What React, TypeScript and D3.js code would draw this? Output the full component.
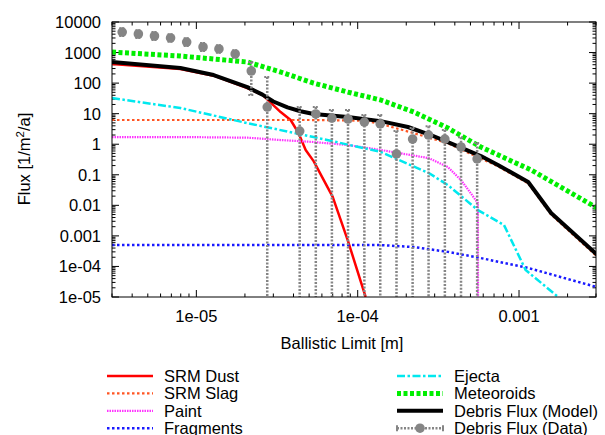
import React from 'react';
import * as d3 from 'd3';

// model curves (x in m, flux in 1/m^2/a)
const dustX = [3e-6, 7.96e-6, 1.28e-5, 2.07e-5, 2.57e-5, 3.33e-5, 3.84e-5, 4.3e-5, 4.76e-5, 5.33e-5, 7.0e-5, 8.67e-5, 1.12e-4];
const dustY = [420, 290, 175, 69, 41, 11.3, 6.2, 2.3, 0.65, 0.28, 0.019, 7.3e-4, 1e-5];

const slagX = [3e-6, 1e-5, 5e-5, 1.1e-4, 1.39e-4, 2.23e-4, 3.62e-4, 5.8e-4, 7.4e-4, 1.14e-3, 1.58e-3, 3.05e-3];
const slagY = [6.2, 6.2, 6.2, 5.9, 4.6, 2.3, 1.07, 0.34, 0.19, 0.052, 0.005, 2.1e-4];

const paintX = [3e-6, 7.96e-6, 2.07e-5, 3.33e-5, 5.33e-5, 8.67e-5, 1.39e-4, 2.76e-4, 3.62e-4, 4.37e-4, 5.56e-4, 5.57e-4];
const paintY = [1.72, 1.72, 1.64, 1.37, 1.18, 0.94, 0.65, 0.35, 0.18, 0.067, 0.0119, 1e-5];

const fragX = [3e-6, 1.39e-4, 2.23e-4, 3.62e-4, 5.8e-4, 1.14e-3, 3.05e-3];
const fragY = [5.0e-4, 5.0e-4, 4.3e-4, 3.0e-4, 1.88e-4, 8.9e-5, 2.1e-5];

const ejectaX = [3e-6, 7.96e-6, 2.07e-5, 5.33e-5, 1.39e-4, 2.76e-4, 3.62e-4, 5.56e-4, 8.07e-4, 1.1e-3, 1.75e-3];
const ejectaY = [32.5, 15.3, 4.9, 1.72, 0.56, 0.114, 0.046, 0.007, 0.00226, 7.6e-5, 1e-5];

const meteorX = [3e-6, 7.96e-6, 2.07e-5, 3.33e-5, 5.33e-5, 8.67e-5, 1.39e-4, 2.23e-4, 3.62e-4, 5.8e-4, 1.19e-3, 3.05e-3];
const meteorY = [1040, 770, 490, 231, 100, 51, 28, 11.3, 3.4, 0.81, 0.143, 0.0082];

const modelX = [3e-6, 7.96e-6, 1.28e-5, 2.07e-5, 2.57e-5, 3.0e-5, 3.67e-5, 4.42e-5, 5.33e-5, 8.67e-5, 1.39e-4, 2.05e-4, 2.84e-4, 3.62e-4, 4.55e-4, 5.8e-4, 7.4e-4, 1.14e-3, 1.58e-3, 3.05e-3];
const modelY = [490, 312, 184, 74, 42, 25, 16, 12, 9.7, 7.8, 5.7, 3.66, 2.0, 1.18, 0.7, 0.41, 0.21, 0.058, 0.0056, 2.4e-4];

// measured debris flux with error bars (0 = open to the bottom)
const dataX = [3.47e-6, 4.37e-6, 5.5e-6, 6.92e-6, 8.71e-6, 1.1e-5, 1.38e-5, 1.74e-5, 2.19e-5, 2.75e-5, 4.37e-5, 5.5e-5, 6.92e-5, 8.71e-5, 1.1e-4, 1.38e-4, 1.74e-4, 2.19e-4, 2.75e-4, 3.47e-4, 4.37e-4, 5.5e-4];
const dataY = [4700, 4050, 3480, 3000, 2210, 1520, 1310, 900, 249, 16.5, 2.7, 9.8, 7.2, 6.7, 5.3, 4.6, 0.48, 1.48, 2.0, 1.48, 0.81, 0.33];
const dataHi = [6300, 5400, 4700, 4000, 2950, 2050, 1750, 1200, 490, 158, 16.5, 16.5, 13.2, 13.2, 9, 9, 2.7, 3.4, 3.9, 2.9, 1.7, 1.1];
const dataLo = [3500, 3000, 2600, 2250, 1650, 1130, 980, 670, 41, 0, 0, 0, 0, 0, 0, 0, 0, 0, 0, 0, 0, 0];

const yTickLabels = ['1e-05', '1e-04', '0.001', '0.01', '0.1', '1', '10', '100', '1000', '10000'];
const xTickLabels = ['1e-05', '1e-04', '0.001'];

const W = 605, H = 435;
const m = { left: 112, right: 596, top: 22, bottom: 297 };
const font = '"Liberation Sans", Arial, sans-serif';
const gray = '#858585';

const x = d3.scaleLog().domain([3e-6, 3e-3]).range([m.left, m.right]);
const y = d3.scaleLog().domain([1e-5, 1e4]).range([m.bottom, m.top]);

const series = [
  { name: 'SRM Dust', xs: dustX, ys: dustY, color: '#ff0000', width: 2.5, dash: null },
  { name: 'SRM Slag', xs: slagX, ys: slagY, color: '#ff5522', width: 2.2, dash: '2.5,2.5' },
  { name: 'Paint', xs: paintX, ys: paintY, color: '#ff33ff', width: 2.2, dash: '1.5,1' },
  { name: 'Fragments', xs: fragX, ys: fragY, color: '#1a1aff', width: 2.5, dash: '2.5,2.5' },
  { name: 'Ejecta', xs: ejectaX, ys: ejectaY, color: '#00e8ee', width: 2.5, dash: '8,2.5,2.5,2.5' },
  { name: 'Meteoroids', xs: meteorX, ys: meteorY, color: '#00ee00', width: 5, dash: '4,2.5' },
  { name: 'Debris Flux (Model)', xs: modelX, ys: modelY, color: '#000000', width: 4, dash: null },
];

const line = d3.line<[number, number]>()
  .x((d) => x(d[0]))
  .y((d) => y(d[1]));

const isMajor = (v: number) => Math.abs(Math.log10(v) - Math.round(Math.log10(v))) < 1e-6;

const App = () => {
  const xTicks = x.ticks();
  const yTicks = y.ticks();

  const legendRows = [...series.map((s) => s.name), 'Debris Flux (Data)'];

  return (
    <svg width={W} height={H} style={{ position: 'absolute', left: 0, top: 0, background: '#fff' }} fontFamily={font}>
      <defs>
        <clipPath id="plot">
          <rect x={m.left} y={m.top} width={m.right - m.left} height={m.bottom - m.top} />
        </clipPath>
      </defs>

      {/* ticks on all four sides */}
      <g stroke="#000" strokeWidth={1}>
        {xTicks.map((t, i) => {
          const px = x(t);
          const len = isMajor(t) ? 7 : 3.5;
          return (
            <g key={'xt' + i}>
              <line x1={px} x2={px} y1={m.bottom} y2={m.bottom - len} />
              <line x1={px} x2={px} y1={m.top} y2={m.top + len} />
            </g>
          );
        })}
        {yTicks.map((t, i) => {
          const py = y(t);
          const len = isMajor(t) ? 7 : 3.5;
          return (
            <g key={'yt' + i}>
              <line x1={m.left} x2={m.left + len} y1={py} y2={py} />
              <line x1={m.right} x2={m.right - len} y1={py} y2={py} />
            </g>
          );
        })}
      </g>

      {/* tick labels */}
      <g fontSize={16.5} fill="#000">
        {yTickLabels.map((l, i) => (
          <text key={l} x={101} y={y(Math.pow(10, i - 5)) + 6} textAnchor="end">{l}</text>
        ))}
        {xTickLabels.map((l, i) => (
          <text key={l} x={x(Math.pow(10, i - 5))} y={322} textAnchor="middle">{l}</text>
        ))}
        <text x={342} y={349} textAnchor="middle">Ballistic Limit [m]</text>
        <text transform="translate(30,159) rotate(-90)" textAnchor="middle">
          Flux [1/m<tspan dy={-6} fontSize={11.5}>2</tspan><tspan dy={6}>/a]</tspan>
        </text>
      </g>

      <g clipPath="url(#plot)" fill="none" strokeLinejoin="round">
        {series.map((s) => (
          <path
            key={s.name}
            d={line(s.xs.map((v, i) => [v, s.ys[i]] as [number, number])) || ''}
            stroke={s.color}
            strokeWidth={s.width}
            strokeDasharray={s.dash || undefined}
          />
        ))}
        {/* data: error bars + points */}
        {dataX.map((v, i) => {
          const px = x(v);
          const yTop = y(dataHi[i]);
          const yBot = dataLo[i] > 0 ? y(dataLo[i]) : m.bottom + 5;
          return (
            <g key={'d' + i}>
              <line x1={px} x2={px} y1={yTop} y2={yBot} stroke={gray} strokeWidth={2.5} strokeDasharray="2,1.5" />
              <line x1={px - 3} x2={px + 3} y1={yTop} y2={yTop} stroke={gray} strokeWidth={2} strokeDasharray="2,1" />
              {dataLo[i] > 0 && (
                <line x1={px - 3} x2={px + 3} y1={yBot} y2={yBot} stroke={gray} strokeWidth={2} strokeDasharray="2,1" />
              )}
              <circle cx={px} cy={y(dataY[i])} r={4.8} fill={gray} />
            </g>
          );
        })}
      </g>

      {/* frame */}
      <rect x={m.left} y={m.top} width={m.right - m.left} height={m.bottom - m.top} fill="none" stroke="#000" strokeWidth={1} />

      {/* legend */}
      <g fontSize={16.5}>
        {legendRows.map((name, i) => {
          const col = i < 4 ? 0 : 1;
          const row = i < 4 ? i : i - 4;
          const lx = col === 0 ? 107 : 397;
          const cy = 376 + row * 17.4;
          const s = series[i];
          return (
            <g key={name}>
              {s ? (
                <line x1={lx} x2={lx + 46} y1={cy} y2={cy} stroke={s.color} strokeWidth={s.width} strokeDasharray={s.dash || undefined} />
              ) : (
                <g stroke={gray}>
                  <line x1={lx} x2={lx + 46} y1={cy} y2={cy} strokeWidth={2.5} strokeDasharray="2,1.5" />
                  <line x1={lx} x2={lx} y1={cy - 3} y2={cy + 3} strokeWidth={2} />
                  <line x1={lx + 46} x2={lx + 46} y1={cy - 3} y2={cy + 3} strokeWidth={2} />
                  <circle cx={lx + 23} cy={cy} r={4.8} fill={gray} stroke="none" />
                </g>
              )}
              <text x={lx + 57} y={cy + 6}>{name}</text>
            </g>
          );
        })}
      </g>
    </svg>
  );
};

export default App;
